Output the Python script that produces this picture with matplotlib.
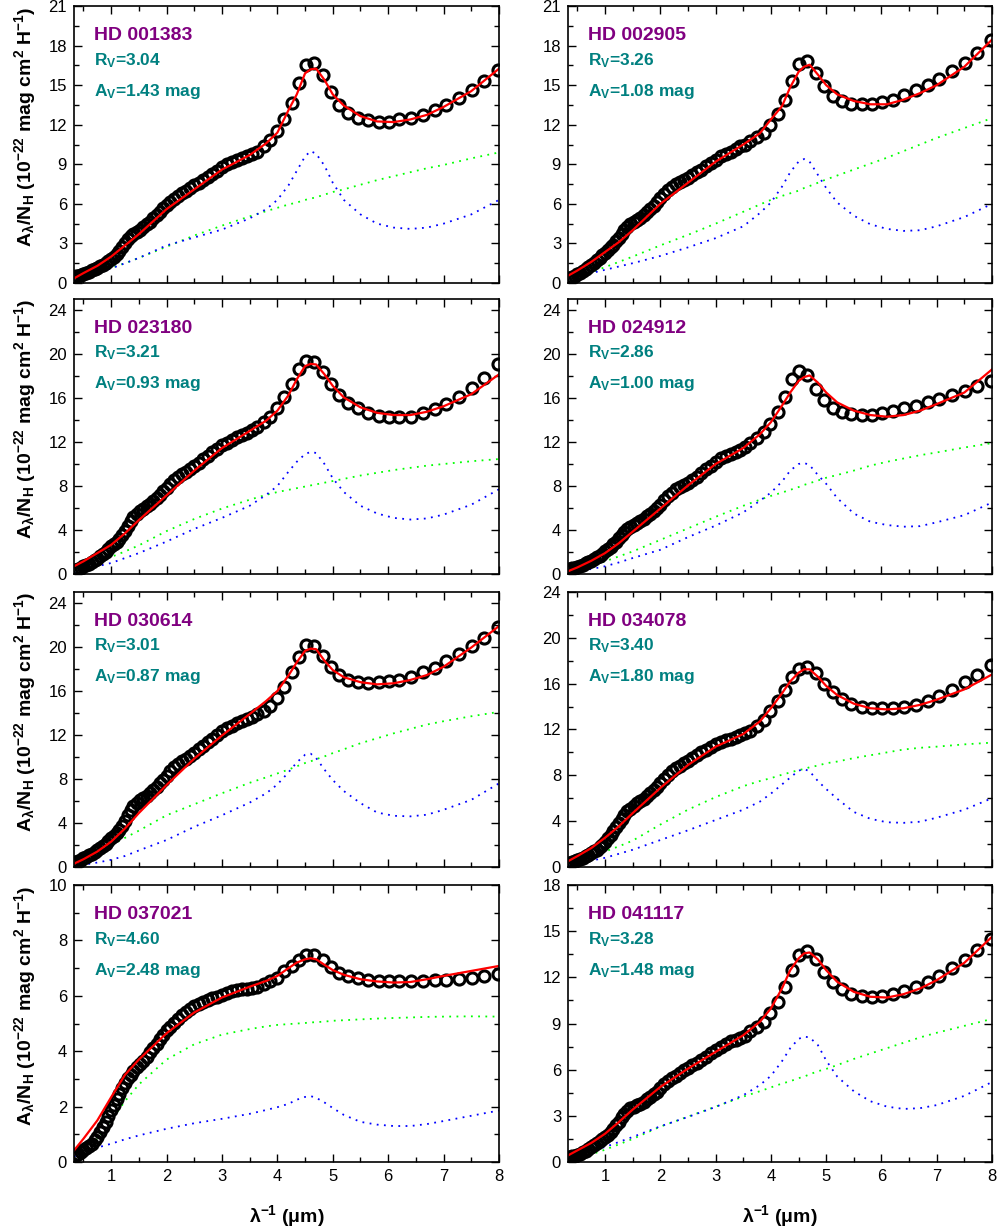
import matplotlib
matplotlib.use("Agg")
import matplotlib.pyplot as plt
from matplotlib.ticker import MultipleLocator

plt.rcParams["font.family"] = "Liberation Sans"
plt.rcParams["mathtext.fontset"] = "custom"
plt.rcParams["mathtext.rm"] = "Liberation Sans:bold"
plt.rcParams["mathtext.it"] = "Liberation Sans:bold"
plt.rcParams["mathtext.bf"] = "Liberation Sans:bold"
plt.rcParams["mathtext.sf"] = "Liberation Sans:bold"

# observed points (shared wavenumber grid, 1/um)
x_obs = [0.33, 0.37, 0.41, 0.45, 0.50, 0.55, 0.60, 0.65, 0.70, 0.75,
         0.80, 0.85, 0.90, 0.95, 1.00, 1.05, 1.10, 1.15, 1.20, 1.25,
         1.30, 1.35, 1.40, 1.46, 1.52, 1.58, 1.64, 1.70, 1.76, 1.82,
         1.88, 1.94, 2.00, 2.07, 2.14, 2.21, 2.28, 2.35, 2.42, 2.50,
         2.58, 2.66, 2.74, 2.82, 2.91, 3.00, 3.09, 3.18, 3.27, 3.36,
         3.45, 3.54, 3.63, 3.75, 3.87, 3.99, 4.12, 4.26, 4.39, 4.51,
         4.66, 4.82, 4.96, 5.12, 5.28, 5.45, 5.64, 5.83, 6.01, 6.20,
         6.41, 6.62, 6.84, 7.04, 7.28, 7.51, 7.73, 7.98]

# model grid
x_mod = [0.33, 0.5, 0.75, 1.0, 1.25, 1.5, 2.0, 2.5, 3.0, 3.5, 3.8, 4.0, 4.2, 4.35,
         4.5, 4.6, 4.7, 4.85, 5.0, 5.2, 5.5, 5.8, 6.1, 6.4, 6.7, 7.0, 7.5, 8.0]

stars = ["HD 001383", "HD 002905", "HD 023180", "HD 024912",
         "HD 030614", "HD 034078", "HD 037021", "HD 041117"]
rv = ["3.04", "3.26", "3.21", "2.86", "3.01", "3.40", "4.60", "3.28"]
av = ["1.43", "1.08", "0.93", "1.00", "0.87", "1.80", "2.48", "1.48"]
ymax = [21, 21, 25, 25, 25, 24, 10, 18]
ystep = [3, 3, 4, 4, 4, 4, 2, 3]

obs_001383 = [0.45, 0.50, 0.55, 0.60, 0.68, 0.76, 0.85, 0.95, 1.05, 1.15,
              1.28, 1.40, 1.55, 1.70, 1.85, 2.00, 2.20, 2.40, 2.70, 3.00,
              3.30, 3.55, 3.75, 3.90, 4.05, 4.25, 4.45, 4.65, 4.90, 5.15,
              5.40, 5.65, 5.90, 6.15, 6.40, 6.60, 6.80, 7.00, 7.20, 7.40,
              7.60, 7.80, 8.00, 8.25, 8.50, 8.80, 9.05, 9.20, 9.30, 9.45,
              9.60, 9.75, 9.97, 10.35, 10.86, 11.50, 12.46, 13.65, 15.20, 16.50,
              16.70, 15.76, 14.50, 13.50, 12.90, 12.50, 12.33, 12.20, 12.20, 12.40,
              12.50, 12.75, 13.15, 13.50, 14.00, 14.65, 15.30, 16.15]
obs_002905 = [0.30, 0.38, 0.47, 0.55, 0.65, 0.78, 0.90, 1.05, 1.20, 1.35,
              1.55, 1.72, 1.90, 2.10, 2.30, 2.50, 2.70, 2.90, 3.15, 3.40,
              3.70, 4.00, 4.25, 4.45, 4.65, 4.80, 4.95, 5.15, 5.35, 5.60,
              5.85, 6.15, 6.45, 6.75, 7.05, 7.30, 7.50, 7.65, 7.80, 7.95,
              8.20, 8.40, 8.60, 8.90, 9.10, 9.35, 9.65, 9.80, 9.95, 10.15,
              10.35, 10.50, 10.75, 11.10, 11.40, 12.00, 12.80, 13.90, 15.30, 16.60,
              16.80, 15.95, 14.90, 14.20, 13.80, 13.60, 13.55, 13.60, 13.75, 13.90,
              14.25, 14.60, 15.00, 15.50, 16.10, 16.70, 17.45, 18.40]
obs_023180 = [0.30, 0.38, 0.47, 0.57, 0.70, 0.82, 0.95, 1.10, 1.25, 1.40,
              1.60, 1.80, 2.00, 2.25, 2.50, 2.75, 2.95, 3.20, 3.50, 3.90,
              4.35, 4.80, 5.15, 5.45, 5.70, 5.95, 6.20, 6.40, 6.65, 6.90,
              7.20, 7.50, 7.80, 8.15, 8.50, 8.80, 9.05, 9.30, 9.55, 9.80,
              10.10, 10.45, 10.75, 11.05, 11.40, 11.70, 11.95, 12.20, 12.45, 12.65,
              12.85, 13.05, 13.40, 13.80, 14.25, 15.06, 16.10, 17.30, 18.60, 19.37,
              19.30, 18.40, 17.25, 16.27, 15.55, 15.06, 14.64, 14.40, 14.30, 14.30,
              14.30, 14.64, 15.00, 15.45, 16.10, 16.87, 17.80, 19.07]
obs_024912 = [0.35, 0.42, 0.50, 0.55, 0.63, 0.73, 0.85, 0.97, 1.10, 1.22,
              1.35, 1.50, 1.65, 1.85, 2.05, 2.25, 2.45, 2.70, 2.95, 3.25,
              3.55, 3.85, 4.05, 4.25, 4.45, 4.60, 4.80, 5.00, 5.25, 5.45,
              5.70, 6.00, 6.30, 6.70, 7.05, 7.40, 7.70, 7.90, 8.10, 8.30,
              8.55, 8.85, 9.20, 9.50, 9.80, 10.15, 10.50, 10.75, 10.95, 11.10,
              11.30, 11.55, 11.90, 12.35, 12.87, 13.60, 14.70, 16.10, 17.75, 18.50,
              18.05, 16.85, 15.80, 15.10, 14.70, 14.50, 14.45, 14.45, 14.60, 14.80,
              15.05, 15.30, 15.60, 15.90, 16.25, 16.65, 17.10, 17.55]
obs_030614 = [0.35, 0.45, 0.55, 0.65, 0.78, 0.90, 1.05, 1.20, 1.35, 1.50,
              1.70, 1.90, 2.10, 2.35, 2.60, 2.85, 3.10, 3.40, 3.75, 4.20,
              4.70, 5.15, 5.50, 5.80, 6.05, 6.25, 6.45, 6.70, 7.00, 7.30,
              7.60, 7.95, 8.30, 8.70, 9.05, 9.35, 9.60, 9.85, 10.10, 10.40,
              10.70, 11.00, 11.35, 11.65, 12.00, 12.35, 12.60, 12.85, 13.10, 13.30,
              13.45, 13.60, 13.90, 14.20, 14.67, 15.40, 16.40, 17.70, 19.10, 20.15,
              20.10, 19.20, 18.20, 17.45, 17.00, 16.85, 16.70, 16.85, 16.90, 17.00,
              17.30, 17.70, 18.10, 18.75, 19.35, 20.10, 20.85, 21.80]
obs_034078 = [0.30, 0.38, 0.45, 0.52, 0.60, 0.70, 0.80, 0.92, 1.05, 1.20,
              1.35, 1.52, 1.72, 1.95, 2.20, 2.50, 2.80, 3.15, 3.45, 3.80,
              4.20, 4.55, 4.85, 5.10, 5.35, 5.55, 5.75, 5.95, 6.20, 6.45,
              6.70, 7.00, 7.30, 7.70, 8.05, 8.35, 8.60, 8.85, 9.05, 9.25,
              9.50, 9.75, 10.00, 10.25, 10.50, 10.75, 10.90, 11.05, 11.20, 11.35,
              11.50, 11.65, 11.90, 12.30, 12.85, 13.60, 14.45, 15.45, 16.55, 17.25,
              17.45, 16.90, 16.00, 15.25, 14.65, 14.20, 13.95, 13.85, 13.85, 13.85,
              13.95, 14.10, 14.45, 14.90, 15.45, 16.10, 16.75, 17.65]
obs_037021 = [0.20, 0.25, 0.30, 0.37, 0.44, 0.50, 0.57, 0.66, 0.78, 0.92,
              1.10, 1.27, 1.45, 1.65, 1.87, 2.07, 2.27, 2.47, 2.67, 2.87,
              3.02, 3.15, 3.28, 3.42, 3.54, 3.66, 3.80, 3.96, 4.12, 4.26,
              4.43, 4.60, 4.75, 4.88, 5.02, 5.16, 5.30, 5.42, 5.52, 5.62,
              5.70, 5.78, 5.85, 5.91, 5.97, 6.04, 6.10, 6.16, 6.20, 6.23,
              6.26, 6.29, 6.33, 6.42, 6.54, 6.66, 6.88, 7.08, 7.29, 7.48,
              7.48, 7.29, 7.05, 6.84, 6.72, 6.66, 6.58, 6.54, 6.54, 6.52,
              6.52, 6.54, 6.57, 6.58, 6.60, 6.66, 6.72, 6.78]
obs_041117 = [0.25, 0.30, 0.36, 0.41, 0.47, 0.55, 0.63, 0.73, 0.84, 0.95,
              1.08, 1.21, 1.35, 1.50, 1.63, 1.77, 1.92, 2.15, 2.39, 2.62,
              2.90, 3.10, 3.30, 3.48, 3.60, 3.71, 3.80, 3.92, 4.07, 4.25,
              4.43, 4.58, 4.80, 5.05, 5.25, 5.43, 5.62, 5.80, 5.98, 6.12,
              6.30, 6.46, 6.64, 6.85, 7.10, 7.27, 7.50, 7.70, 7.84, 7.96,
              8.08, 8.22, 8.50, 8.80, 9.10, 9.70, 10.40, 11.35, 12.47, 13.45,
              13.70, 13.17, 12.36, 11.71, 11.24, 10.95, 10.78, 10.74, 10.78, 10.91,
              11.13, 11.39, 11.71, 12.08, 12.58, 13.12, 13.77, 14.47]

# total fit (red)
fit_001383 = [0.35, 0.75, 1.3, 2.0, 2.85, 3.7, 5.6, 7.1, 8.6, 9.7, 10.6, 11.4, 13.1, 14.3,
              15.9, 16.2, 16.25, 15.4, 14.3, 13.45, 12.65, 12.25, 12.2, 12.4, 12.75, 13.35, 14.55, 16.25]
fit_002905 = [0.55, 0.95, 1.6, 2.35, 3.1, 4.0, 6.0, 7.6, 9.2, 10.5, 11.35, 12.4, 13.4, 14.85,
              16.0, 16.4, 16.55, 15.8, 15.0, 14.3, 13.8, 13.55, 13.55, 13.9, 14.4, 15.0, 16.4, 18.45]
fit_023180 = [0.7, 1.15, 1.9, 2.65, 3.7, 4.9, 7.15, 9.4, 11.45, 13.0, 13.95, 14.85, 16.25, 17.7,
              18.9, 19.1, 19.05, 18.15, 17.1, 16.05, 15.15, 14.65, 14.45, 14.45, 14.75, 15.25, 16.35, 18.15]
fit_024912 = [0.25, 0.6, 1.2, 1.9, 2.8, 3.85, 5.95, 8.05, 10.0, 11.45, 12.7, 13.8, 15.3, 16.5,
              17.55, 17.9, 18.05, 17.4, 16.5, 15.6, 14.85, 14.45, 14.3, 14.45, 14.85, 15.45, 16.5, 18.6]
fit_030614 = [0.3, 0.7, 1.4, 2.3, 3.5, 4.9, 7.45, 9.85, 11.95, 13.9, 15.1, 16.0, 17.4, 18.6,
              19.65, 19.85, 19.8, 18.75, 17.9, 17.25, 16.8, 16.6, 16.7, 17.0, 17.45, 18.2, 19.95, 21.9]
fit_034078 = [0.5, 0.95, 1.65, 2.55, 3.55, 4.7, 6.9, 8.9, 10.5, 11.6, 12.7, 13.85, 15.15, 16.2,
              16.95, 17.25, 17.25, 16.6, 15.8, 15.0, 14.25, 13.85, 13.75, 13.85, 14.15, 14.6, 15.5, 16.8]
fit_037021 = [0.42, 0.84, 1.5, 2.34, 3.15, 3.7, 4.65, 5.4, 5.94, 6.33, 6.54, 6.72, 7.0, 7.2,
              7.32, 7.36, 7.32, 7.12, 6.93, 6.76, 6.6, 6.52, 6.48, 6.5, 6.6, 6.72, 6.9, 7.08]
fit_041117 = [0.43, 0.76, 1.24, 1.84, 2.6, 3.41, 4.88, 6.07, 7.16, 8.24, 9.11, 9.98, 11.28, 12.47,
              13.23, 13.56, 13.62, 13.17, 12.47, 11.71, 11.06, 10.74, 10.69, 10.91, 11.28, 11.82, 12.95, 14.64]

# smooth component (green dotted)
smooth_001383 = [0.05, 0.35, 0.75, 1.15, 1.5, 1.9, 2.75, 3.6, 4.35, 5.05, 5.45, 5.7, 5.95, 6.1,
                 6.3, 6.4, 6.5, 6.7, 6.9, 7.1, 7.45, 7.8, 8.1, 8.4, 8.7, 8.95, 9.45, 9.9]
smooth_002905 = [0.1, 0.4, 0.8, 1.2, 1.6, 2.0, 2.85, 3.65, 4.5, 5.4, 5.95, 6.3, 6.6, 6.8,
                 7.0, 7.2, 7.35, 7.6, 7.85, 8.15, 8.6, 9.05, 9.5, 10.0, 10.5, 11.0, 11.75, 12.5]
smooth_023180 = [0.1, 0.5, 1.0, 1.55, 2.05, 2.6, 3.9, 5.0, 5.95, 6.75, 7.2, 7.45, 7.65, 7.8,
                 7.95, 8.05, 8.15, 8.3, 8.45, 8.65, 8.95, 9.2, 9.45, 9.65, 9.85, 10.0, 10.25, 10.45]
smooth_024912 = [0.05, 0.35, 0.75, 1.15, 1.6, 2.05, 3.1, 4.15, 5.2, 6.2, 6.75, 7.1, 7.4, 7.65,
                 7.9, 8.1, 8.25, 8.5, 8.75, 9.0, 9.4, 9.85, 10.2, 10.5, 10.8, 11.05, 11.5, 11.9]
smooth_030614 = [0.05, 0.5, 1.2, 2.0, 2.65, 3.3, 4.7, 5.7, 6.7, 7.65, 8.15, 8.5, 8.85, 9.15,
                 9.45, 9.6, 9.8, 10.05, 10.35, 10.7, 11.25, 11.7, 12.15, 12.55, 12.95, 13.25, 13.7, 14.1]
smooth_034078 = [0.05, 0.45, 0.9, 1.35, 1.8, 2.3, 3.7, 5.0, 6.1, 7.05, 7.5, 7.75, 8.05, 8.25,
                 8.45, 8.55, 8.7, 8.85, 9.05, 9.2, 9.5, 9.75, 10.0, 10.25, 10.4, 10.5, 10.7, 10.85]
smooth_037021 = [0.1, 0.35, 0.85, 1.5, 2.2, 2.8, 3.7, 4.25, 4.6, 4.8, 4.9, 4.95, 4.98, 5.0,
                 5.02, 5.04, 5.05, 5.07, 5.1, 5.12, 5.15, 5.18, 5.2, 5.22, 5.24, 5.25, 5.26, 5.25]
smooth_041117 = [0.05, 0.25, 0.5, 0.8, 1.15, 1.5, 2.3, 2.95, 3.6, 4.25, 4.6, 4.85, 5.1, 5.25,
                 5.45, 5.55, 5.7, 5.9, 6.05, 6.3, 6.7, 7.05, 7.4, 7.75, 8.1, 8.4, 8.85, 9.3]

# bump component (blue dotted)
bump_001383 = [0.15, 0.4, 0.75, 1.1, 1.5, 1.9, 2.85, 3.45, 4.05, 4.9, 5.6, 6.3, 7.4, 8.5,
               9.6, 10.0, 9.8, 8.9, 7.6, 6.3, 5.2, 4.5, 4.2, 4.1, 4.2, 4.5, 5.2, 6.3]
bump_002905 = [0.25, 0.45, 0.75, 1.0, 1.25, 1.5, 2.05, 2.7, 3.4, 4.3, 5.3, 6.1, 7.3, 8.4,
               9.2, 9.4, 9.2, 8.2, 7.2, 6.1, 5.1, 4.45, 4.1, 3.95, 4.0, 4.3, 5.0, 6.0]
bump_023180 = [0.1, 0.35, 0.7, 1.0, 1.45, 1.9, 2.95, 4.1, 5.1, 6.2, 7.2, 8.0, 9.3, 10.2,
               10.9, 11.1, 11.0, 10.0, 8.7, 7.45, 6.2, 5.5, 5.1, 4.95, 5.05, 5.4, 6.3, 7.7]
bump_024912 = [0.1, 0.25, 0.45, 0.7, 1.05, 1.45, 2.2, 3.35, 4.4, 5.6, 6.65, 7.4, 8.4, 9.4,
               10.0, 10.1, 9.9, 9.0, 8.2, 6.9, 5.5, 4.75, 4.45, 4.3, 4.35, 4.7, 5.35, 6.5]
bump_030614 = [0.05, 0.2, 0.4, 0.65, 1.0, 1.5, 2.45, 3.65, 4.7, 5.85, 6.7, 7.5, 8.6, 9.5,
               10.2, 10.3, 9.9, 8.85, 7.9, 6.9, 5.8, 4.95, 4.65, 4.6, 4.75, 5.2, 6.1, 7.6]
bump_034078 = [0.1, 0.3, 0.55, 0.8, 1.15, 1.5, 2.35, 3.2, 4.1, 5.0, 5.7, 6.4, 7.2, 7.8,
               8.4, 8.55, 8.35, 7.5, 6.8, 5.95, 4.8, 4.2, 3.9, 3.85, 3.95, 4.3, 5.0, 6.0]
bump_037021 = [0.2, 0.35, 0.52, 0.66, 0.82, 0.96, 1.2, 1.4, 1.56, 1.74, 1.88, 1.98, 2.1, 2.25,
               2.35, 2.38, 2.32, 2.15, 1.95, 1.7, 1.45, 1.35, 1.3, 1.3, 1.37, 1.48, 1.67, 1.86]
bump_041117 = [0.2, 0.4, 0.7, 0.98, 1.3, 1.63, 2.32, 2.93, 3.58, 4.34, 5.0, 5.6, 6.55, 7.4,
               8.0, 8.15, 8.1, 7.6, 6.6, 5.55, 4.6, 3.95, 3.6, 3.45, 3.5, 3.7, 4.3, 5.2]

obs = [obs_001383, obs_002905, obs_023180, obs_024912,
       obs_030614, obs_034078, obs_037021, obs_041117]
fits = [fit_001383, fit_002905, fit_023180, fit_024912,
        fit_030614, fit_034078, fit_037021, fit_041117]
smooth = [smooth_001383, smooth_002905, smooth_023180, smooth_024912,
          smooth_030614, smooth_034078, smooth_037021, smooth_041117]
bump = [bump_001383, bump_002905, bump_023180, bump_024912,
        bump_030614, bump_034078, bump_037021, bump_041117]

fig = plt.figure(figsize=(9.99, 12.32), dpi=100)
lefts = [0.0741, 0.5686]
widths = [0.4254, 0.4244]
bottoms = [0.7703, 0.5341, 0.2963, 0.0568]
heights = [0.2248, 0.2232, 0.2232, 0.2248]

dots = (0, (1, 3))
for i in range(8):
    row, col = i // 2, i % 2
    ax = fig.add_axes([lefts[col], bottoms[row], widths[col], heights[row]])

    ax.plot(x_mod, smooth[i], color="#00ff00", lw=1.3, ls=dots)
    ax.plot(x_mod, bump[i], color="#0000ff", lw=1.3, ls=dots)
    ax.plot(x_obs, obs[i], "o", mfc="none", mec="black", ms=8, mew=2.2)
    ax.plot(x_mod, fits[i], color="red", lw=1.6)

    ax.set_xlim(0.33, 8)
    ax.set_ylim(0, ymax[i])
    ax.xaxis.set_major_locator(MultipleLocator(1))
    ax.xaxis.set_minor_locator(MultipleLocator(0.5))
    ax.yaxis.set_major_locator(MultipleLocator(ystep[i]))
    ax.yaxis.set_minor_locator(MultipleLocator(ystep[i] / 2))
    ax.tick_params(which="both", direction="in", top=True, right=True,
                   labelsize=12, width=1, pad=5)
    ax.tick_params(which="major", length=6)
    ax.tick_params(which="minor", length=3.5)
    ax.tick_params(labelbottom=(row == 3))
    for sp in ax.spines.values():
        sp.set_linewidth(1.2)

    ax.text(0.048, 0.876, stars[i], transform=ax.transAxes, color="#800080",
            fontsize=14, fontweight="bold")
    ax.text(0.048, 0.787, r"R$_V$=" + rv[i], transform=ax.transAxes, color="#008080",
            fontsize=12.5, fontweight="bold")
    ax.text(0.048, 0.675, r"A$_V$=" + av[i] + " mag", transform=ax.transAxes,
            color="#008080", fontsize=12.5, fontweight="bold")

    if col == 0:
        ax.set_ylabel(r"A$_\lambda$/N$_H$ (10$^{-22}$ mag cm$^2$ H$^{-1}$)",
                      fontsize=14, fontweight="bold")
        ax.yaxis.set_label_coords(-0.085, 0.565)
    if row == 3:
        ax.set_xlabel(r"λ$^{-1}$ (μm)", fontsize=14, fontweight="bold", labelpad=14)

fig.savefig("out.png", dpi=100)
